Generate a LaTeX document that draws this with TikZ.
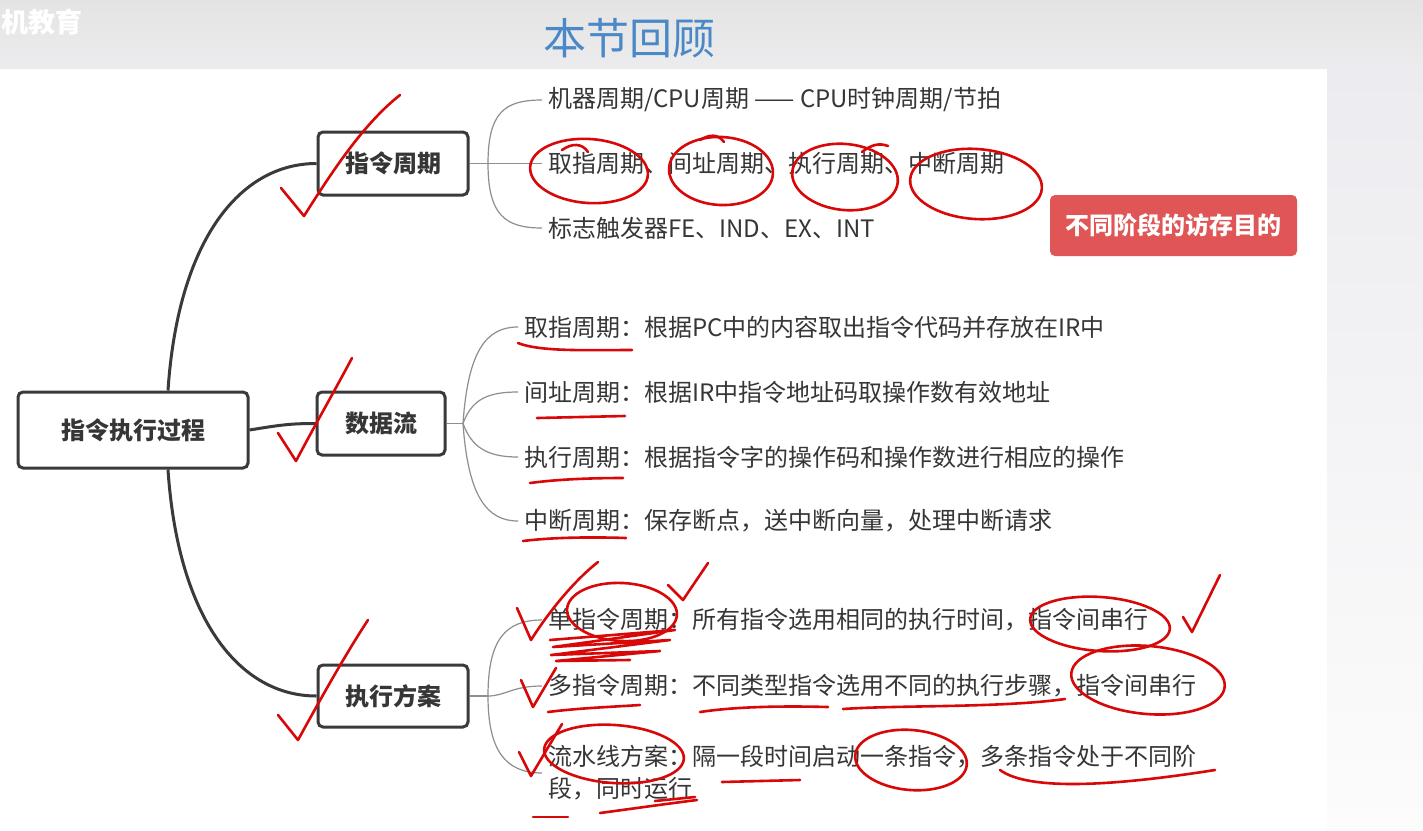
\documentclass[tikz,border=0pt]{standalone}
\usepackage{fontspec}
\setmainfont{Noto Sans CJK SC}
\usetikzlibrary{calc}
\definecolor{txt}{HTML}{363636}
\definecolor{boxc}{HTML}{3A3A3C}
\definecolor{thin}{HTML}{8E8E8E}
\definecolor{pen}{HTML}{D80808}
\definecolor{tagred}{HTML}{E05656}
\definecolor{titleblue}{HTML}{4A88C8}
\begin{document}
\begin{tikzpicture}[x=1pt,y=-1pt,
  topic/.style={draw=boxc, line width=3pt, rounded corners=5pt, fill=white,
    font=\fontsize{24}{28}\selectfont\bfseries, text=txt, inner sep=0pt},
  item/.style={anchor=west, font=\fontsize{24}{32}\selectfont, text=txt,
    inner xsep=6pt, inner ysep=2pt, align=left},
  conn/.style={draw=boxc, line width=3pt},
  br/.style={draw=thin, line width=1.2pt},
  pen/.style={draw=pen, line width=2.6pt, line cap=round, line join=round},
  tag/.style={fill=tagred, rounded corners=5pt, text=white,
    font=\fontsize{24}{28}\selectfont\bfseries, inner sep=0pt}]

% background
\useasboundingbox (0,0) rectangle (1423,830);
\fill[white] (0,0) rectangle (1423,830);
\shade[top color={rgb,255:red,228;green,228;blue,228}, bottom color={rgb,255:red,236;green,236;blue,238}] (0,0) rectangle (1423,68);
\shade[top color={rgb,255:red,236;green,236;blue,240}, bottom color={rgb,255:red,252;green,252;blue,252}] (1327,68) rectangle (1423,830);

\node[anchor=west, font=\fontsize{27}{27}\selectfont\bfseries, text=white, inner sep=0pt] (logo) at (1,22) {机教育};
\node[font=\fontsize{43}{43}\selectfont, text=titleblue] (title) at (629,38) {本节回顾};

% main topics
\node[topic, minimum width=230pt, minimum height=76pt] (root) at (133,430) {指令执行过程};
\node[topic, minimum width=150pt, minimum height=63pt] (zq) at (393,163.5) {指令周期};
\node[topic, minimum width=128pt, minimum height=63pt] (sj) at (381,423.5) {数据流};
\node[topic, minimum width=150pt, minimum height=62pt] (fa) at (393,696) {执行方案};

\draw[conn] ([xshift=35pt]root.north) .. controls (178,240) and (240,163.5) .. (zq.west);
\draw[conn] (root.east) .. controls (280,425) and (290,423.5) .. (sj.west);
\draw[conn] ([xshift=35pt]root.south) .. controls (178,620) and (240,696) .. (fa.west);

% items of 指令周期
\node[item] (z1) at (542,100) {机器周期/CPU周期 —— CPU时钟周期/节拍};
\node[item] (z2) at (542,163.5) {取指周期、间址周期、执行周期、中断周期};
\node[item] (z3) at (542,228) {标志触发器FE、IND、EX、INT};
\coordinate (jz) at (488,163.5);
\draw[br] (zq.east) -- (jz) -- (z2.west);
\draw[br] (jz) .. controls (488,112) and (505,100) .. (z1.west);
\draw[br] (jz) .. controls (488,215) and (505,228) .. (z3.west);

% items of 数据流
\node[item] (d1) at (518,327) {取指周期：根据PC中的内容取出指令代码并存放在IR中};
\node[item] (d2) at (518,392) {间址周期：根据IR中指令地址码取操作数有效地址};
\node[item] (d3) at (518,457) {执行周期：根据指令字的操作码和操作数进行相应的操作};
\node[item] (d4) at (518,521) {中断周期：保存断点，送中断向量，处理中断请求};
\coordinate (js) at (463,423.5);
\draw[br] (sj.east) -- (js);
\draw[br] (js) .. controls (468,351) and (486,327) .. (d1.west);
\draw[br] (js) .. controls (472,399) and (488,392) .. (d2.west);
\draw[br] (js) .. controls (472,448) and (488,457) .. (d3.west);
\draw[br] (js) .. controls (468,495) and (486,521) .. (d4.west);

% items of 执行方案
\node[item] (f1) at (542,620) {单指令周期：所有指令选用相同的执行时间，指令间串行};
\node[item] (f2) at (542,686) {多指令周期：不同类型指令选用不同的执行步骤，指令间串行};
\node[item] (f3) at (542,773) {流水线方案：隔一段时间启动一条指令，多条指令处于不同阶\\段，同时运行};
\coordinate (jf) at (488,696);
\draw[br] (fa.east) -- (jf);
\draw[br] (jf) .. controls (488,640) and (505,620) .. (f1.west);
\draw[br] (jf) .. controls (505,696) and (512,686) .. (f2.west);
\draw[br] (jf) .. controls (488,750) and (505,773) .. (f3.west);

% red tag
\node[tag, minimum width=247pt, minimum height=61pt] (tagbox) at (1173.5,225.5) {不同阶段的访存目的};

% ---- red pen annotations ----
% checks at the topics
\draw[pen] (281,188) -- (304,216) .. controls (330,175) and (362,125) .. (400,95);
\draw[pen] (278,433) -- (296,461) .. controls (315,425) and (335,390) .. (352,358);
\draw[pen] (278,715) -- (298,740) .. controls (320,700) and (345,655) .. (368,620);
% circles on 指令周期 items
\draw[pen, rotate around={-4:(589,171)}] (589,171) ellipse [x radius=59, y radius=32];
\draw[pen, rotate around={-3:(721,171)}] (721,171) ellipse [x radius=52, y radius=34];
\draw[pen, rotate around={-6:(845,177)}] (845,177) ellipse [x radius=53, y radius=33];
\draw[pen, rotate around={-4:(976,184)}] (976,184) ellipse [x radius=66, y radius=35];
\draw[pen] (562,150) .. controls (572,143) and (582,143) .. (588,152);
\draw[pen] (700,140) .. controls (710,134) and (718,134) .. (724,142);
\draw[pen] (862,152) .. controls (872,144) and (880,143) .. (888,146);
% underlines on 数据流 items
\draw[pen] (518,343) .. controls (540,352) and (590,350) .. (632,350);
\draw[pen] (537,418) -- (625,416);
\draw[pen] (530,483) .. controls (560,479) and (595,478) .. (623,478);
\draw[pen] (523,541) .. controls (555,537) and (595,537) .. (626,538);
% 执行方案 row 1
\draw[pen] (517,608) -- (531,640) .. controls (550,610) and (575,580) .. (598,562);
\draw[pen, rotate around={-3:(622,612)}] (622,612) ellipse [x radius=55, y radius=29];
\draw[pen] (668,585) -- (683,600) -- (708,563);
\draw[pen] (550,640) -- (675,630) -- (553,647) -- (670,640) -- (551,655) -- (660,651) -- (556,661) -- (630,660);
\draw[pen, rotate around={-4:(1100,624)}] (1100,624) ellipse [x radius=70, y radius=27];
\draw[pen] (1183,617) -- (1192,632) -- (1220,575);
% 执行方案 row 2
\draw[pen] (521,680) -- (533,707) -- (556,668);
\draw[pen] (548,712) .. controls (580,708) and (610,707) .. (640,705);
\draw[pen] (700,712) .. controls (740,706) and (790,706) .. (828,707);
\draw[pen] (843,709) .. controls (900,705) and (1000,708) .. (1065,699);
\draw[pen, rotate around={-5:(1148,680)}] (1148,680) ellipse [x radius=77, y radius=34];
% 执行方案 row 3
\draw[pen] (519,752) -- (531,776) -- (562,724);
\draw[pen, rotate around={-4:(614,754)}] (614,754) ellipse [x radius=70, y radius=29];
\draw[pen, rotate around={-5:(911,760)}] (911,760) ellipse [x radius=56, y radius=30];
\draw[pen] (722,782) -- (800,780);
\draw[pen] (1000,770) .. controls (1030,792) and (1120,785) .. (1215,770);
\draw[pen] (600,813) .. controls (630,809) and (665,804) .. (697,800);
\draw[pen] (655,801) -- (695,797);
\draw[pen] (533,817) -- (568,817);
\end{tikzpicture}
\end{document}
